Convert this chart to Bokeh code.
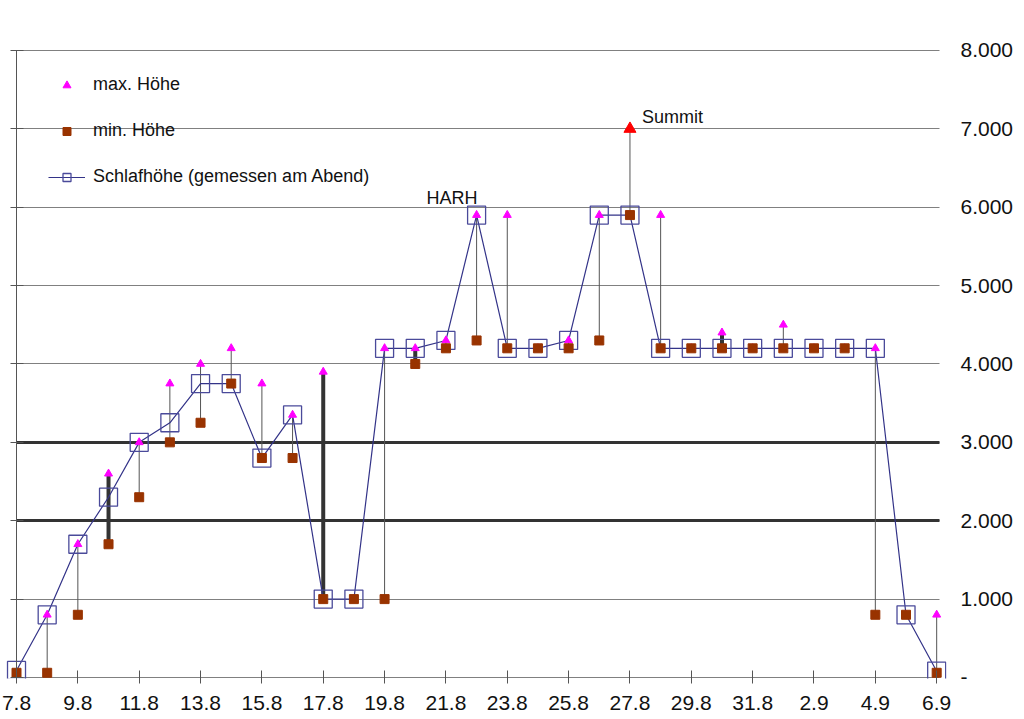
from bokeh.plotting import figure
from bokeh.models import (ColumnDataSource, Range1d, LinearAxis, FixedTicker,
                          Grid, Legend, LegendItem)
from bokeh.core.properties import value
from bokeh.embed import file_html
from bokeh.resources import INLINE

# Tage (Datum) und Höhen in Metern
days = ["7.8", "8.8", "9.8", "10.8", "11.8", "12.8", "13.8", "14.8", "15.8",
        "16.8", "17.8", "18.8", "19.8", "20.8", "21.8", "22.8", "23.8", "24.8",
        "25.8", "26.8", "27.8", "28.8", "29.8", "30.8", "31.8", "1.9", "2.9",
        "3.9", "4.9", "5.9", "6.9"]
schlaf_hoehe = [90, 800, 1700, 2300, 3000, 3250, 3750, 3750, 2800, 3350,
                1000, 1000, 4200, 4200, 4300, 5900, 4200, 4200, 4300, 5900,
                5900, 4200, 4200, 4200, 4200, 4200, 4200, 4200, 4200, 800, 80]
max_hoehe = [60, 800, 1700, 2600, 3000, 3750, 4000, 4200, 3750, 3350,
             3900, 1000, 4200, 4200, 4300, 5900, 5900, 4200, 4300, 5900,
             7000, 5900, 4200, 4400, 4200, 4500, 4200, 4200, 4200, 800, 800]
min_hoehe = [60, 60, 800, 1700, 2300, 3000, 3250, 3750, 2800, 2800,
             1000, 1000, 1000, 4000, 4200, 4300, 4200, 4200, 4200, 4300,
             5900, 4200, 4200, 4200, 4200, 4200, 4200, 4200, 800, 800, 60]
bold_days = ["10.8", "17.8", "20.8", "30.8"]
summit_day = "27.8"
notes = ["HARH", "Summit"]
note_days = ["22.8", "27.8"]

y_ticks = [0, 1000, 2000, 3000, 4000, 5000, 6000, 7000, 8000]
y_labels = ["-", "1.000", "2.000", "3.000", "4.000", "5.000", "6.000",
            "7.000", "8.000"]
thick_lines = [2000, 3000]

FONT = "Liberation Sans"
xs = list(range(len(days)))

src = ColumnDataSource(dict(x=xs, schlaf=schlaf_hoehe, hi=max_hoehe, lo=min_hoehe))
bold_idx = [days.index(d) for d in bold_days]
bold_src = ColumnDataSource(dict(
    x=[xs[i] for i in bold_idx],
    hi=[max_hoehe[i] for i in bold_idx],
    lo=[min_hoehe[i] for i in bold_idx],
))
s = days.index(summit_day)

p = figure(width=1024, height=719,
           x_range=Range1d(-0.522, 30.32), y_range=Range1d(-13, 8038),
           x_axis_location=None, y_axis_location=None,
           toolbar_location=None, output_backend="svg",
           min_border_left=0, min_border_top=47,
           min_border_bottom=41, min_border_right=78)
p.outline_line_color = None
p.xgrid.visible = False
p.ygrid.visible = False

# horizontale Linien (die Linie bei 0 ist zugleich die x-Achse)
p.add_layout(Grid(dimension=1, ticker=FixedTicker(ticks=y_ticks),
                  grid_line_color="#808080", grid_line_width=1,
                  cross_bounds=(0, 30.1)))
p.add_layout(Grid(dimension=1, ticker=FixedTicker(ticks=thick_lines),
                  grid_line_color="#333333", grid_line_width=3,
                  cross_bounds=(0, 30.1)))

# Achsen
xaxis = LinearAxis(ticker=FixedTicker(ticks=xs[::2]),
                   major_label_overrides={i: days[i] for i in xs[::2]},
                   major_tick_in=8, major_tick_out=5,
                   axis_line_color=None, major_tick_line_color="#555555",
                   minor_tick_line_color=None, major_label_standoff=12,
                   major_label_text_font=FONT, major_label_text_font_size="21px",
                   major_label_text_color="#111111")
p.add_layout(xaxis, "below")

yaxis = LinearAxis(ticker=FixedTicker(ticks=y_ticks),
                   major_label_overrides=dict(zip(y_ticks, y_labels)),
                   axis_line_color=None, major_tick_line_color=None,
                   minor_tick_line_color=None, major_tick_in=0, major_tick_out=0,
                   major_label_standoff=14,
                   major_label_text_font=FONT, major_label_text_font_size="21px",
                   major_label_text_color="#111111")
p.add_layout(yaxis, "right")

tick_axis = LinearAxis(ticker=FixedTicker(ticks=y_ticks),
                       major_label_overrides={t: "" for t in y_ticks},
                       fixed_location=0, bounds=(0, 8000),
                       major_tick_in=6, major_tick_out=7, major_label_standoff=0,
                       axis_line_color="#555555", major_tick_line_color="#555555",
                       minor_tick_line_color=None)
p.add_layout(tick_axis, "right")

# max-min Linien
p.segment(x0="x", y0="lo", x1="x", y1="hi", source=src,
          line_color="#555555", line_width=1)
p.segment(x0="x", y0="lo", x1="x", y1="hi", source=bold_src,
          line_color="#333333", line_width=4)

r_line = p.line("x", "schlaf", source=src, line_color="#333388", line_width=1.2)
r_box = p.scatter("x", "schlaf", source=src, marker="square", size=18,
                  fill_color=None, line_color="#4a4a9a", line_width=1.3)
r_max = p.scatter("x", "hi", source=src, marker="triangle", size=8,
                  fill_color="#ff00ff", line_color="#ff00ff")
r_min = p.scatter("x", "lo", source=src, marker="square", size=9,
                  fill_color="#993300", line_color="#993300")
p.scatter(x=[xs[s]], y=[max_hoehe[s]], marker="triangle", size=12,
          fill_color="#ff0000", line_color="#ff0000")

# Beschriftungen
i0, i1 = days.index(note_days[0]), days.index(note_days[1])
p.text(x=[xs[i0]], y=[max_hoehe[i0]], text=[notes[0]], text_align="right",
       text_baseline="alphabetic", x_offset=1, y_offset=-17,
       text_font=value(FONT), text_font_size="18px", text_color="#111111")
p.text(x=[xs[i1]], y=[max_hoehe[i1]], text=[notes[1]], text_align="left",
       text_baseline="alphabetic", x_offset=12, y_offset=-12,
       text_font=value(FONT), text_font_size="18px", text_color="#111111")

legend = Legend(items=[
    LegendItem(label="max. Höhe", renderers=[r_max]),
    LegendItem(label="min. Höhe", renderers=[r_min]),
    LegendItem(label="Schlafhöhe (gemessen am Abend)", renderers=[r_line, r_box]),
], location=(48, 491), glyph_width=37, glyph_height=20, label_height=20,
    spacing=25, padding=0, margin=0, label_standoff=8,
    label_text_font=FONT, label_text_font_size="18px", label_text_color="#111111",
    background_fill_alpha=0, border_line_alpha=0)
p.add_layout(legend)

open("out.html", "w", encoding="utf-8").write(file_html(p, INLINE))
